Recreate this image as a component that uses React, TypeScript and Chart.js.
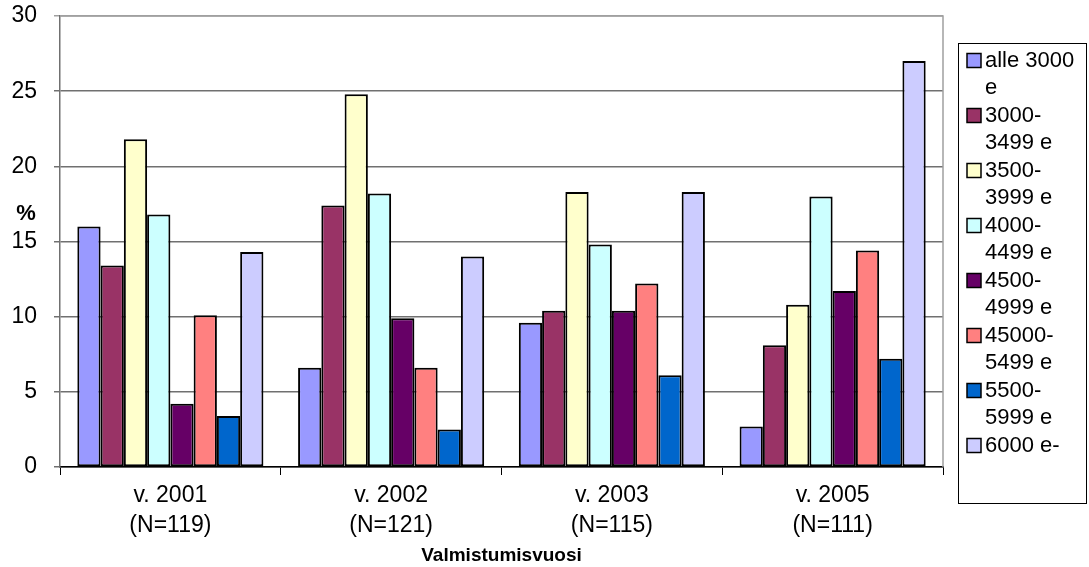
import { useEffect, useRef } from "react";
import { Chart, registerables } from "chart.js";

Chart.register(...registerables);

const FONT = "'Liberation Sans', Arial, Helvetica, sans-serif";

const categories = [
  ["v. 2001", "(N=119)"],
  ["v. 2002", "(N=121)"],
  ["v. 2003", "(N=115)"],
  ["v. 2005", "(N=111)"],
];

const legendLines = [
  ["alle 3000", "e"],
  ["3000-", "3499 e"],
  ["3500-", "3999 e"],
  ["4000-", "4499 e"],
  ["4500-", "4999 e"],
  ["45000-", "5499 e"],
  ["5500-", "5999 e"],
  ["6000 e-"],
];

const seriesColors = ["#9999FF", "#993366", "#FFFFCC", "#CCFFFF", "#660066", "#FF8080", "#0066CC", "#CCCCFF"];

const alle3000 = [16.0, 6.6, 9.6, 2.7];
const s3000_3499 = [13.4, 17.4, 10.4, 8.1];
const s3500_3999 = [21.8, 24.8, 18.3, 10.8];
const s4000_4499 = [16.8, 18.2, 14.8, 18.0];
const s4500_4999 = [4.2, 9.9, 10.4, 11.7];
const s45000_5499 = [10.1, 6.6, 12.2, 14.4];
const s5500_5999 = [3.4, 2.5, 6.1, 7.2];
const s6000plus = [14.3, 14.0, 18.3, 27.0];

const seriesValues = [alle3000, s3000_3499, s3500_3999, s4000_4499, s4500_4999, s45000_5499, s5500_5999, s6000plus];

const yMin = 0;
const yMax = 30;
const yStep = 5;

const decorPlugin = {
  id: "decor",
  afterDraw(chart: any) {
    const { ctx, chartArea: a } = chart;
    ctx.save();
    // plot area border (top & right)
    ctx.strokeStyle = "#a0a0a0";
    ctx.lineWidth = 1.5;
    ctx.beginPath();
    ctx.moveTo(a.left, a.top);
    ctx.lineTo(a.right, a.top);
    ctx.lineTo(a.right, a.bottom);
    ctx.stroke();

    // "%" axis label
    ctx.fillStyle = "#000";
    ctx.font = `bold 22px ${FONT}`;
    ctx.textAlign = "center";
    ctx.textBaseline = "middle";
    ctx.fillText("%", 26, a.top + 198);

    // legend
    const x0 = a.right + 15;
    const y0 = 43;
    const w = 128;
    const h = 460;
    ctx.strokeStyle = "#000";
    ctx.lineWidth = 1;
    ctx.strokeRect(x0 + 0.5, y0 + 0.5, w, h);
    ctx.font = `22px ${FONT}`;
    ctx.textAlign = "left";
    chart.data.datasets.forEach((ds: any, i: number) => {
      const lines = legendLines[i];
      const cy = y0 + 17.5 + i * 55;
      ctx.fillStyle = ds.backgroundColor;
      ctx.fillRect(x0 + 9, cy - 7, 14, 14);
      ctx.strokeStyle = "#000";
      ctx.lineWidth = 1.5;
      ctx.strokeRect(x0 + 9, cy - 7, 14, 14);
      ctx.fillStyle = "#000";
      lines.forEach((ln: string, j: number) => {
        ctx.fillText(ln, x0 + 27, cy + j * 27.5);
      });
    });
    ctx.restore();
  },
};

export default function App() {
  const ref = useRef<HTMLCanvasElement | null>(null);

  useEffect(() => {
    if (!ref.current) return;
    const chart = new Chart(ref.current, {
      type: "bar",
      data: {
        labels: categories as any,
        datasets: seriesValues.map((vals, i) => ({
          label: legendLines[i].join(" "),
          data: vals,
          backgroundColor: seriesColors[i],
          borderColor: "#000",
          borderWidth: 2,
          borderSkipped: false,
          barPercentage: 1,
          categoryPercentage: 0.843,
        })),
      },
      options: {
        responsive: false,
        animation: false,
        devicePixelRatio: 1,
        layout: { padding: { top: 16, right: 146, left: 0, bottom: 0 } },
        plugins: {
          legend: { display: false },
          tooltip: { enabled: false },
          title: { display: false },
        },
        scales: {
          x: {
            grid: {
              offset: true,
              drawOnChartArea: false,
              drawTicks: true,
              tickLength: 8,
              color: "#000",
              lineWidth: 1,
            },
            border: { color: "#000", width: 1.5 },
            ticks: {
              color: "#000",
              font: { family: FONT, size: 23, lineHeight: 1.3 },
              padding: 6,
              maxRotation: 0,
              autoSkip: false,
            },
            title: {
              display: true,
              text: "Valmistumisvuosi",
              color: "#000",
              font: { family: FONT, size: 19, weight: "bold" },
              padding: { top: 0, bottom: 0 },
            },
            afterFit(s: any) {
              s.height = 100;
              s.paddingLeft = 0;
              s.paddingRight = 0;
            },
          },
          y: {
            min: yMin,
            max: yMax,
            grid: {
              color: (c: any) => (c.tick && c.tick.value === yMax ? "#a0a0a0" : "#707070"),
              lineWidth: 1.5,
              tickLength: 6,
            },
            border: { color: "#707070", width: 1.5 },
            ticks: {
              stepSize: yStep,
              color: "#000",
              font: { family: FONT, size: 23 },
              padding: 17,
            },
            afterFit(s: any) {
              s.width = 60;
              s.paddingTop = 0;
              s.paddingBottom = 0;
            },
          },
        },
      },
      plugins: [decorPlugin],
    });
    return () => chart.destroy();
  }, []);

  return (
    <div style={{ position: "absolute", left: 0, top: 0, width: 1089, height: 567, background: "#fff" }}>
      <canvas ref={ref} width={1089} height={567} style={{ display: "block" }} />
    </div>
  );
}
